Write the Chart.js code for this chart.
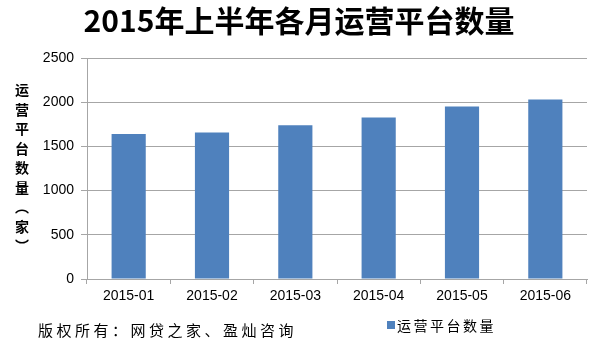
<!DOCTYPE html>
<html>
<head>
<meta charset="utf-8">
<script src="https://cdn.jsdelivr.net/npm/chart.js@4/dist/chart.umd.min.js"></script>
<style>
  html, body { margin: 0; padding: 0; background: #fff; }
  #wrap { width: 600px; height: 351px; }
</style>
</head>
<body>
<div id="wrap"><canvas id="platChart" width="600" height="351"></canvas></div>
<script>
const months = ["2015-01", "2015-02", "2015-03", "2015-04", "2015-05", "2015-06"];
const platformCount = [1640, 1657, 1740, 1826, 1951, 2031];
const yTicks = [0, 500, 1000, 1500, 2000, 2500];

const chartTitle = "2015年上半年各月运营平台数量";
const seriesName = "运营平台数量";
const yTitleChars = ["运", "营", "平", "台", "数", "量", "︵", "家", "︶"];
const footerText = "版权所有：网贷之家、盈灿咨询";

const cjk = "'Noto Sans CJK SC', 'Liberation Sans', sans-serif";
const barColor = "#4f81bd";
const gridColor = "#a6a6a6";

// title, vertical y title, footer and legend drawn on the canvas
const extraText = {
    id: "extraText",
    afterDraw(chart) {
        const ctx = chart.ctx;
        ctx.save();
        ctx.fillStyle = "#000";
        ctx.textBaseline = "middle";

        ctx.font = "bold 30px " + cjk;
        ctx.textAlign = "center";
        ctx.fillText(chartTitle, 299, 21);

        ctx.font = "bold 14px " + cjk;
        yTitleChars.forEach((ch, i) => {
            ctx.fillText(ch, 22, 90 + i * 19.5);
        });

        ctx.textAlign = "left";
        ctx.font = "15px " + cjk;
        ctx.letterSpacing = "3.5px";
        ctx.fillText(footerText, 38, 330);

        ctx.fillStyle = barColor;
        ctx.fillRect(387, 321, 8, 8);
        ctx.fillStyle = "#000";
        ctx.font = "14px " + cjk;
        ctx.letterSpacing = "2.5px";
        ctx.fillText(seriesName, 397, 326);
        ctx.restore();
    }
};

const ctx = document.getElementById("platChart").getContext("2d");

new Chart(ctx, {
    type: "bar",
    data: {
        labels: months,
        datasets: [
            {
                label: seriesName,
                data: platformCount,
                backgroundColor: barColor,
                borderWidth: 0,
                barPercentage: 0.41,
                categoryPercentage: 1,
            },
        ],
    },
    options: {
        responsive: false,
        animation: false,
        layout: {
            padding: { left: 0, right: 13, top: 58, bottom: 0 },
        },
        scales: {
            x: {
                afterFit: (scale) => { scale.height = 72; },
                grid: {
                    display: true,
                    offset: true,
                    drawOnChartArea: false,
                    drawTicks: true,
                    tickLength: 5,
                    color: gridColor,
                },
                border: { color: gridColor, width: 1 },
                ticks: {
                    color: "#000",
                    padding: 4,
                    font: { family: "'Liberation Sans', Arial, sans-serif", size: 14 },
                },
            },
            y: {
                min: 0,
                max: 2500,
                afterFit: (scale) => { scale.width = 87; },
                afterBuildTicks: (scale) => {
                    scale.ticks = yTicks.map((v) => ({ value: v }));
                },
                grid: {
                    color: gridColor,
                    lineWidth: 1,
                    tickLength: 6,
                },
                border: { color: gridColor, width: 1 },
                ticks: {
                    color: "#000",
                    padding: 7,
                    callback: (v) => String(v),
                    font: { family: "'Liberation Sans', Arial, sans-serif", size: 14 },
                },
            },
        },
        plugins: {
            legend: { display: false },
            title: { display: false },
            tooltip: { enabled: false },
        },
    },
    plugins: [extraText],
});
</script>
</body>
</html>
